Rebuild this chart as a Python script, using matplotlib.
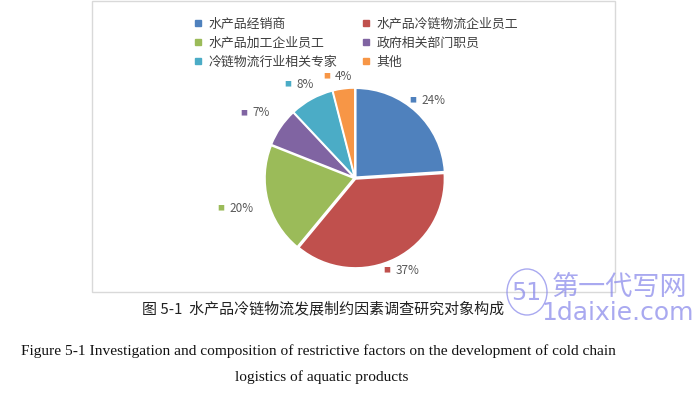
import numpy as np
import matplotlib
matplotlib.use("Agg")
import matplotlib.pyplot as plt
from matplotlib.lines import Line2D
from matplotlib.patches import Rectangle, Ellipse

plt.rcParams['font.family'] = ['Noto Sans CJK SC', 'DejaVu Sans']

categories = ['水产品经销商', '水产品冷链物流企业员工', '水产品加工企业员工',
              '政府相关部门职员', '冷链物流行业相关专家', '其他']
shares = [24, 37, 20, 7, 8, 4]
colors = ['#4F81BD', '#C0504D', '#9BBB59', '#8064A2', '#4BACC6', '#F79646']
label_r = [1.2, 1.17, 1.38, 1.3, 1.2, 1.15]

caption_cn = '图 5-1  水产品冷链物流发展制约因素调查研究对象构成'
caption_en1 = ('Figure 5-1 Investigation and composition of restrictive factors '
               'on the development of cold chain')
caption_en2 = 'logistics of aquatic products'

W, H = 700, 395
fig = plt.figure(figsize=(7, 3.95), dpi=100)

# chart frame
fig.patches.append(Rectangle((92 / W, 1 - 292 / H), 523 / W, 291 / H,
                             transform=fig.transFigure, fill=False,
                             edgecolor='#d9d9d9', linewidth=1))

# pie axes, centre at (355,178) px, radius 89 px
cx, cy, rpx = 355, 178, 89
half = rpx * 1.5
ax = fig.add_axes([(cx - half) / W, (H - cy - half) / H, 2 * half / W, 2 * half / H])
wedges, _ = ax.pie(shares, colors=colors, startangle=90, counterclock=False,
                   explode=[0.012] * len(shares),
                   wedgeprops=dict(edgecolor='white', linewidth=1.2))
ax.set_xlim(-1.5, 1.5)
ax.set_ylim(-1.5, 1.5)
ax.set_aspect('equal')
ax.axis('off')

for w, v, c, r in zip(wedges, shares, colors, label_r):
    ang = np.deg2rad((w.theta1 + w.theta2) / 2)
    x, y = r * np.cos(ang), r * np.sin(ang)
    ax.annotate('■', (x, y), xytext=(-11, 0), textcoords='offset points',
                ha='center', va='center', color=c, fontsize=5)
    ax.annotate(f'{v}%', (x, y), xytext=(-5, 0), textcoords='offset points',
                ha='left', va='center', color='#595959', fontsize=8.5)

# legend filled row by row like the original
handles = [Line2D([], [], marker='s', linestyle='none', markersize=5,
                  markerfacecolor=c, markeredgecolor=c) for c in colors]
order = [0, 2, 4, 1, 3, 5]
fig.legend([handles[i] for i in order], [categories[i] for i in order],
           ncol=2, loc='upper left',
           bbox_to_anchor=(188 / W, 1 - 11 / H), frameon=False,
           fontsize=9.3, labelcolor='#404040', handlelength=0.6,
           handletextpad=0.5, columnspacing=1.9, labelspacing=0.48,
           borderpad=0)

fig.text(323 / W, 1 - 309 / H, caption_cn, ha='center', va='center',
         fontsize=10.8, color='#222222')
fig.text(318 / W, 1 - 351 / H, caption_en1, ha='center', va='center',
         fontsize=11.1, family='Liberation Serif', color='#111111')
fig.text(322 / W, 1 - 377 / H, caption_en2, ha='center', va='center',
         fontsize=11.1, family='Liberation Serif', color='#111111')

# site watermark
wm = '#8585ea'
fig.patches.append(Ellipse((527 / W, 1 - 292 / H), 40 / W, 46 / H,
                           transform=fig.transFigure, fill=False,
                           edgecolor=wm, linewidth=1, alpha=0.7))
fig.text(526 / W, 1 - 293 / H, '51', ha='center', va='center', fontsize=17,
         color=wm, alpha=0.7, family='DejaVu Sans')
fig.text(620 / W, 1 - 287 / H, '第一代写网', ha='center', va='center',
         fontsize=19.5, color=wm, alpha=0.7)
fig.text(618 / W, 1 - 313 / H, '1daixie.com', ha='center', va='center',
         fontsize=18, color=wm, alpha=0.7, family='DejaVu Sans')

fig.savefig('out.png', dpi=100)
